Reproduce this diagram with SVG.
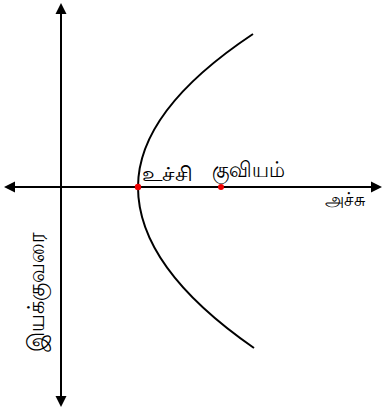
<svg xmlns="http://www.w3.org/2000/svg" width="383" height="411" viewBox="0 0 383 411">
<style>
.ax{stroke:#000;stroke-width:2;fill:none}
.cv{stroke:#000;stroke-width:2;fill:none}
.lb{font-family:"Noto Sans","DejaVu Sans",sans-serif;fill:#000}
.pt{fill:#e00}
.ah{fill:#000}
</style>
<rect width="383" height="411" fill="#fff"/>
<g id="connectors">
<line class="ax" x1="61" y1="12" x2="61" y2="398"/>
<polygon class="ah" points="61,3 55.5,14 66.5,14"/>
<polygon class="ah" points="61,407 55.5,396 66.5,396"/>
<line class="ax" x1="13" y1="187" x2="374" y2="187"/>
<polygon class="ah" points="4,187 15,181.5 15,192.5"/>
<polygon class="ah" points="382,187 371,181.5 371,192.5"/>
</g>
<g id="parabola">
<path class="cv" d="M253,34 Q138,110.5 138,187 Q138,267.5 254,348"/>
</g>
<g id="vertex">
<circle class="pt" cx="138" cy="187" r="3.2"/>
<text class="lb" x="142" y="181" font-size="20" textLength="51" lengthAdjust="spacingAndGlyphs">உச்சி</text>
</g>
<g id="focus">
<circle class="pt" cx="221" cy="187" r="3"/>
<text class="lb" x="212" y="177" font-size="22" textLength="73" lengthAdjust="spacingAndGlyphs">குவியம்</text>
</g>
<g id="axis-label">
<text class="lb" x="325" y="206" font-size="19" textLength="40" lengthAdjust="spacingAndGlyphs">அச்சு</text>
</g>
<g id="directrix-label">
<text class="lb" x="0" y="0" font-size="23" textLength="120" lengthAdjust="spacingAndGlyphs" transform="translate(44,352) rotate(-90)">இயக்குவரை</text>
</g>
</svg>
